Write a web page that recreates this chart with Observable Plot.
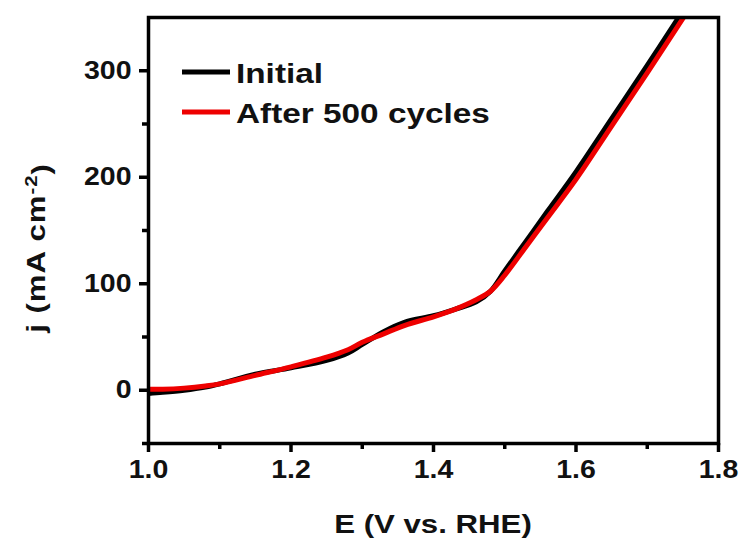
<!DOCTYPE html>
<html>
<head>
<meta charset="utf-8">
<script src="https://cdn.jsdelivr.net/npm/d3@7"></script>
<script src="https://cdn.jsdelivr.net/npm/@observablehq/plot@0.6"></script>
<style>
  html, body { margin: 0; padding: 0; background: #fff; }
  #chart { width: 745px; height: 542px; }
</style>
</head>
<body>
<div id="chart"></div>
<script>
const seriesNames = ["Initial", "After 500 cycles"];
const seriesColors = ["#000000", "#ee0000"];

const eInitial = [1.00, 1.02, 1.05, 1.08, 1.10, 1.15, 1.20, 1.25, 1.28, 1.30, 1.33, 1.36, 1.40, 1.43, 1.46, 1.48, 1.50, 1.53, 1.56, 1.60, 1.65, 1.70, 1.744];
const jInitial = [-3, -2, 0, 3, 6, 15, 21, 28, 35, 43, 55, 64, 70, 76, 83, 93, 112, 140, 168, 205, 255, 305, 350];

const eAfter = [1.00, 1.02, 1.05, 1.08, 1.10, 1.15, 1.20, 1.25, 1.28, 1.30, 1.33, 1.36, 1.40, 1.43, 1.46, 1.48, 1.50, 1.53, 1.56, 1.60, 1.65, 1.70, 1.751];
const jAfter = [1, 1, 2, 4, 6, 14, 22, 31, 38, 45, 53, 61, 69, 76, 85, 93, 108, 135, 162, 198, 248, 298, 350];

const xMajorTicks = [1.0, 1.2, 1.4, 1.6, 1.8];
const xMinorTicks = [1.1, 1.3, 1.5, 1.7];
const yMajorTicks = [0, 100, 200, 300];
const yMinorTicks = [-50, 50, 150, 250];

const xLabel = "E (V vs. RHE)";
const yLabelMain = "j (mA cm";
const yLabelSup = "-2";

const data = [
  ...eInitial.map((e, i) => ({E: e, j: jInitial[i], s: seriesNames[0]})),
  ...eAfter.map((e, i) => ({E: e, j: jAfter[i], s: seriesNames[1]}))
];

const font = "Liberation Sans, Arial, sans-serif";

const plot = Plot.plot({
  width: 745,
  height: 542,
  marginLeft: 148,
  marginRight: 27,
  marginTop: 17,
  marginBottom: 99,
  style: {fontFamily: font, background: "#fff"},
  x: {domain: [1.0, 1.8]},
  y: {domain: [-50, 350]},
  color: {domain: seriesNames, range: seriesColors},
  marks: [
    Plot.line(data, {x: "E", y: "j", stroke: "s", strokeWidth: 5, curve: "catmull-rom", clip: true}),
    Plot.frame({stroke: "#000", strokeWidth: 3.5}),
    Plot.axisX({ticks: xMajorTicks, tickSize: 9, strokeWidth: 3.5, tickPadding: 8, tickFormat: d3.format(".1f"), fontSize: 25, fontWeight: "bold", label: null, fill: "#111"}),
    Plot.axisX({ticks: xMinorTicks, tickSize: 6, strokeWidth: 3.5, tickFormat: () => "", label: null}),
    Plot.axisY({ticks: yMajorTicks, tickSize: 9, strokeWidth: 3.5, tickPadding: 8, tickFormat: d3.format("d"), fontSize: 25, fontWeight: "bold", label: null, fill: "#111"}),
    Plot.axisY({ticks: yMinorTicks, tickSize: 6, strokeWidth: 3.5, tickFormat: () => "", label: null})
  ]
});

const svg = d3.select(plot);
// Widen tick labels horizontally to match the reference's broad bold face
svg.selectAll('g[aria-label="x-axis tick label"] text, g[aria-label="y-axis tick label"] text')
  .each(function() {
    const t = d3.select(this);
    const tr = t.attr("transform") || "";
    t.attr("transform", tr + " scale(1.14,1)");
  });

// Legend
const legendItems = [
  {name: seriesNames[0], color: seriesColors[0], y: 72},
  {name: seriesNames[1], color: seriesColors[1], y: 112}
];
legendItems.forEach(it => {
  svg.append("line").attr("x1", 182).attr("x2", 230).attr("y1", it.y).attr("y2", it.y)
    .attr("stroke", it.color).attr("stroke-width", 5);
  svg.append("text").attr("transform", `translate(236,${it.y + 1}) scale(1.17,1)`)
    .attr("dy", "0.36em").attr("text-anchor", "start")
    .attr("font-family", font).attr("font-size", 28.5).attr("font-weight", "bold")
    .attr("fill", "#111").text(it.name);
});
// X axis label
svg.append("text").attr("transform", "translate(433,533) scale(1.2,1)")
  .attr("text-anchor", "middle").attr("font-family", font).attr("font-size", 26)
  .attr("font-weight", "bold").attr("fill", "#111").text(xLabel);
// Y axis label with superscript
const yl = svg.append("text").attr("transform", "translate(45,248) rotate(-90) scale(1.2,1)")
  .attr("text-anchor", "middle").attr("font-family", font).attr("font-size", 26)
  .attr("font-weight", "bold").attr("fill", "#111").style("letter-spacing", "0.8px");
yl.append("tspan").text(yLabelMain);
yl.append("tspan").attr("dy", "-0.5em").attr("font-size", 17).text(yLabelSup);
yl.append("tspan").attr("dy", "0.5em").text(")");

document.getElementById("chart").appendChild(plot);
</script>
</body>
</html>
